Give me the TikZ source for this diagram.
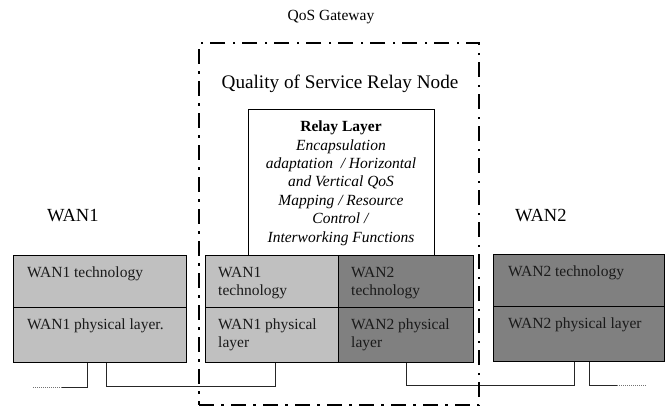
\documentclass[tikz,border=0pt]{standalone}
\usepackage{fontspec}
\setmainfont{Liberation Serif}
\begin{document}
\begin{tikzpicture}[x=1pt,y=-1pt,
  lbox/.style={draw=black,line width=1.1pt,anchor=north west,inner sep=0pt,minimum height=52pt},
  pbox/.style={draw=black,line width=1.1pt,anchor=north west,inner sep=0pt,minimum height=55pt},
  light/.style={fill=lightg},
  dark/.style={fill=darkg},
  btext/.style={anchor=base west,inner sep=0pt,align=left,font=\fontsize{15.5}{18.5}\selectfont,text=txt},
  wire/.style={draw=black!85,line width=1pt},
  dotend/.style={draw=black!55,line width=0.7pt,dash pattern=on 1pt off 1pt},
  gwstyle/.style={draw=black,line width=2.4pt,dash pattern=on 15pt off 7pt on 2.5pt off 7.5pt,anchor=north west,inner sep=0pt,minimum width=280pt,minimum height=362pt}
]
\definecolor{lightg}{HTML}{C0C0C0}
\definecolor{darkg}{HTML}{808080}
\definecolor{txt}{HTML}{1A1A1A}
\useasboundingbox (0,0) rectangle (670,408);

% titles
\node[anchor=base,inner sep=0pt,font=\fontsize{15.5}{18}\selectfont] (qosgw) at (331,20) {QoS Gateway};
\node[anchor=base,inner sep=0pt,font=\fontsize{19.2}{22}\selectfont] (qsrn) at (340,88) {Quality of Service Relay Node};
\node[anchor=base west,inner sep=0pt,font=\fontsize{18.5}{22}\selectfont] (wan1) at (47,221) {WAN1};
\node[anchor=base west,inner sep=0pt,font=\fontsize{18.5}{22}\selectfont] (wan2) at (515,221) {WAN2};

% relay layer box
\node[draw=black,line width=1.1pt,anchor=north west,inner sep=0pt,minimum width=186pt,minimum height=146pt,fill=white] (relay) at (248,109) {};
\node[anchor=base,inner sep=0pt,align=center,font=\fontsize{15.5}{18.4}\selectfont] (relaytxt) at (341,242)
 {\textbf{Relay Layer}\\ \textit{Encapsulation}\\ \textit{adaptation~ / Horizontal}\\ \textit{and Vertical QoS}\\ \textit{Mapping / Resource}\\ \textit{Control /}\\ \textit{Interworking Functions}};

% WAN1 left stack
\node[lbox,light,minimum width=173pt] (l1t) at (13,255) {};
\node[pbox,light,minimum width=173pt] (l1p) at (13,307) {};
\node[btext] (l1tt) at ([shift={(14,22)}]l1t.north west) {WAN1 technology};
\node[btext] (l1pt) at ([shift={(14,22)}]l1p.north west) {WAN1 physical layer.};

% middle stacks
\node[lbox,light,minimum width=133pt] (m1t) at (205,255) {};
\node[pbox,light,minimum width=133pt] (m1p) at (205,307) {};
\node[lbox,dark,minimum width=135pt] (m2t) at (338,255) {};
\node[pbox,dark,minimum width=135pt] (m2p) at (338,307) {};
\node[btext] (m1tt) at ([shift={(13,40.5)}]m1t.north west) {WAN1\\technology};
\node[btext] (m1pt) at ([shift={(13,40.5)}]m1p.north west) {WAN1 physical\\layer};
\node[btext] (m2tt) at ([shift={(13,40.5)}]m2t.north west) {WAN2\\technology};
\node[btext] (m2pt) at ([shift={(13,40.5)}]m2p.north west) {WAN2 physical\\layer};

% WAN2 right stack
\node[lbox,dark,minimum width=171pt] (r2t) at (493,254) {};
\node[pbox,dark,minimum width=171pt] (r2p) at (493,306) {};
\node[btext] (r2tt) at ([shift={(15,22)}]r2t.north west) {WAN2 technology};
\node[btext] (r2pt) at ([shift={(15,22)}]r2p.north west) {WAN2 physical layer};

% wires
\draw[wire] ([xshift=74pt]l1p.south west) -- ++(0,24) -- ++(-25,0) coordinate (ld);
\draw[dotend] (ld) -- ++(-30,0) coordinate (ldend);
\draw[wire] ([xshift=93pt]l1p.south west) -- ++(0,23) -| ([xshift=70pt]m1p.south west);
\draw[wire] ([xshift=68pt]m2p.south west) -- ++(0,22) -| ([xshift=81pt]r2p.south west);
\draw[wire] ([xshift=96pt]r2p.south west) -- ++(0,23) -- ++(28,0) coordinate (rd);
\draw[dotend] (rd) -- ++(30,0) coordinate (rdend);

% gateway boundary
\node[gwstyle] (gw) at (198,42) {};
\end{tikzpicture}
\end{document}
